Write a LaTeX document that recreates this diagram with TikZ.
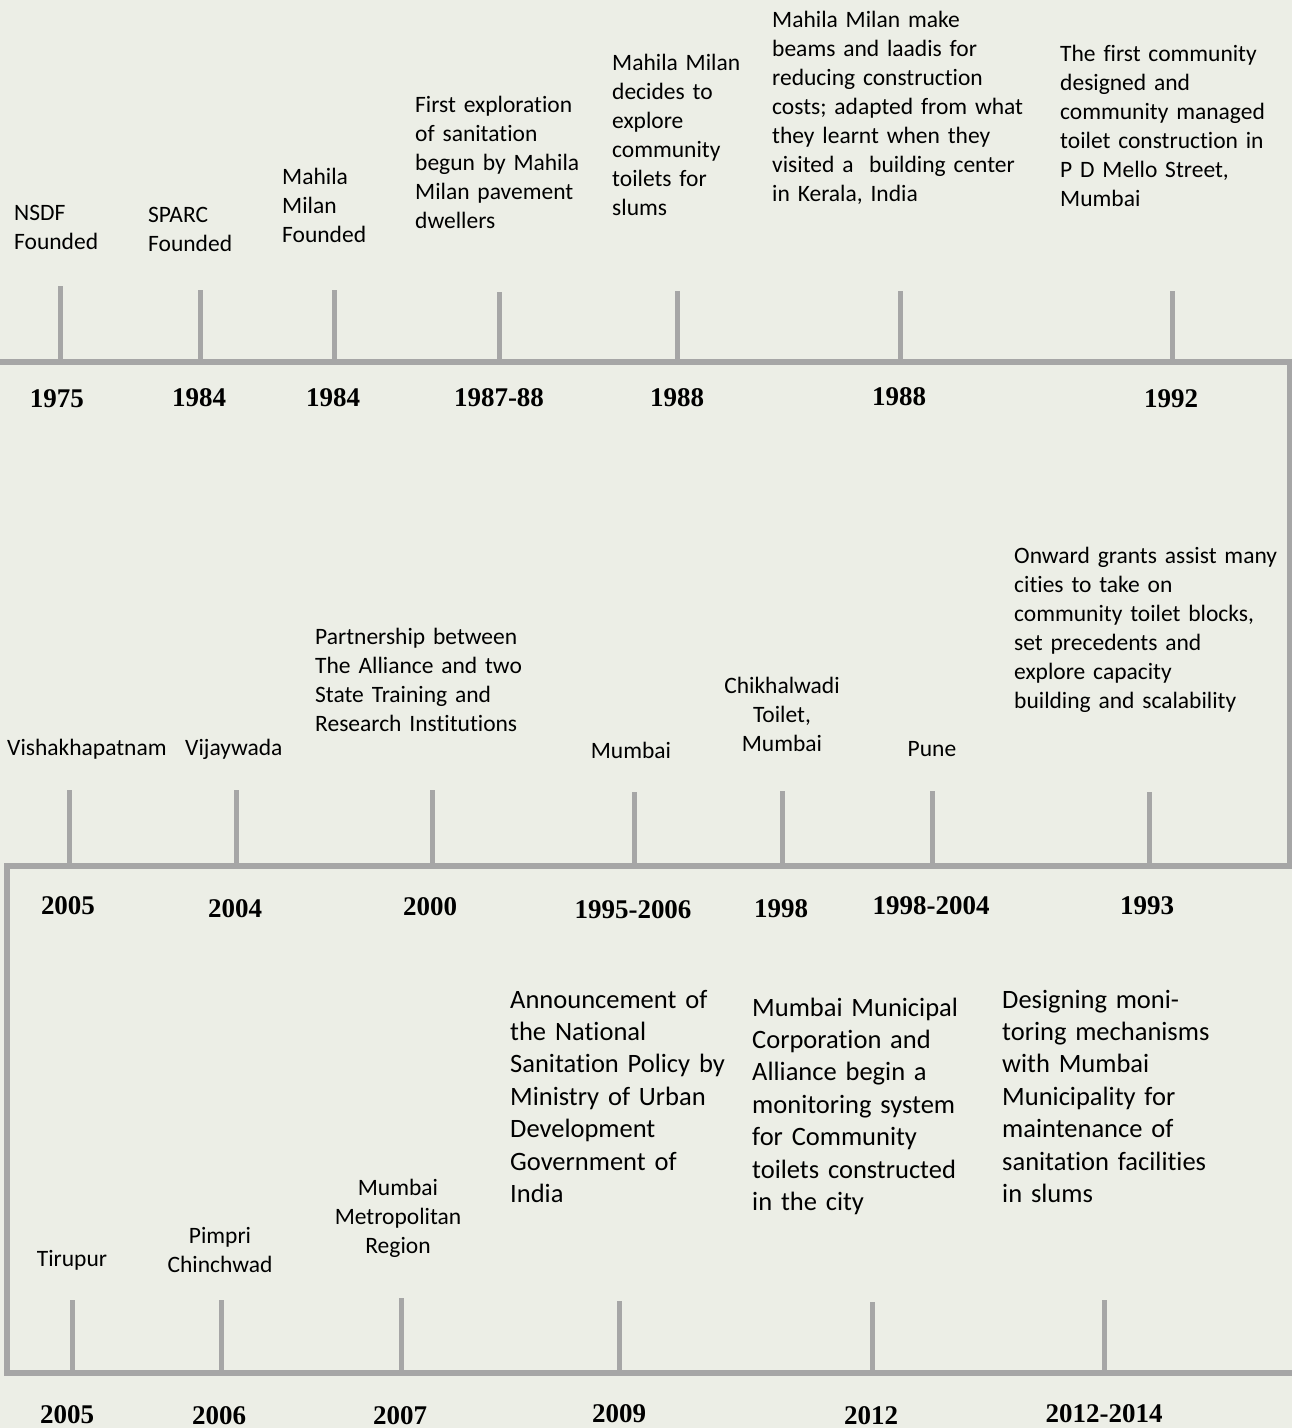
\documentclass[tikz,border=0pt]{standalone}
\usepackage{fontspec}
\setmainfont{Carlito}[Ligatures=NoCommon]
\newfontfamily\yearfont{Liberation Serif}
\definecolor{paper}{HTML}{ECEEE6}
\definecolor{railgray}{HTML}{A6A6A6}
\tikzset{
  event/.style={inner sep=0pt, anchor=base west, align=left, text width=300pt,
    font=\fontsize{23.5}{29}\selectfont},
  place/.style={inner sep=0pt, anchor=base, align=center, text width=200pt,
    font=\fontsize{23.5}{29}\selectfont},
  bigevent/.style={event, font=\fontsize{26.5}{32.4}\selectfont},
  year/.style={inner sep=0pt, anchor=base, font=\yearfont\bfseries\fontsize{27}{30}\selectfont},
  rail/.style={draw=railgray, line width=5.5pt},
  tick/.style={draw=railgray, line width=5pt},
}

\begin{document}
\begin{tikzpicture}[x=1pt, y=-1pt]

% Page
\fill[paper] (0,0) rectangle (1292,1428);
\useasboundingbox (0,0) rectangle (1292,1428);

% Rail
\coordinate (railA) at (0,362);
\coordinate (railB) at (1290,362);
\coordinate (railC) at (1290,866);
\coordinate (railD) at (7,866);
\coordinate (railE) at (7,1373);
\coordinate (railF) at (1292,1373);
\draw[rail] (railA) -- (railB) -- (railC) -- (railD) -- (railE) -- (railF);

% Ticks
\foreach \name/\x/\y in {ta/60/286, tb/200/290, tc/334/290, td/499/292, te/677/291, tf/900/291, tg/1172/291}
  {\coordinate (\name) at (\x,\y); \draw[tick] (\name) -- (\name |- railA);}
\foreach \name/\x/\y in {ma/69/790, mb/236/790, mc/432/790, md/634/792, me/782/791, mf/932/791, mg/1149/792}
  {\coordinate (\name) at (\x,\y); \draw[tick] (\name) -- (\name |- railD);}
\foreach \name/\x/\y in {ba/72/1300, bb/221/1300, bc/401/1298, bd/619/1301, be/872/1302, bf/1104/1300}
  {\coordinate (\name) at (\x,\y); \draw[tick] (\name) -- (\name |- railE);}

% Years
\node[year] (ya) at (57,407) {1975};
\node[year] (yb) at (199,406) {1984};
\node[year] (yc) at (333,406) {1984};
\node[year] (yd) at (499,406) {1987-88};
\node[year] (ye) at (677,406) {1988};
\node[year] (yf) at (899,405) {1988};
\node[year] (yg) at (1171,407) {1992};

\node[year] (za) at (68,914) {2005};
\node[year] (zb) at (235,917) {2004};
\node[year] (zc) at (430,915) {2000};
\node[year] (zd) at (633,918) {1995-2006};
\node[year] (ze) at (781,917) {1998};
\node[year] (zf) at (931,914) {1998-2004};
\node[year] (zg) at (1147,914) {1993};

\node[year] (xa) at (67,1423) {2005};
\node[year] (xb) at (219,1424) {2006};
\node[year] (xc) at (400,1424) {2007};
\node[year] (xd) at (619,1422) {2009};
\node[year] (xe) at (871,1424) {2012};
\node[year] (xf) at (1104,1422) {2012-2014};

% Events, first row
\node[event] (nsdf) at (14,220) {NSDF\\Founded};
\node[event] (sparc) at (148,222) {SPARC\\Founded};
\node[event] (milan) at (282,184) {Mahila\\Milan\\Founded};
\node[event] (explore) at (415,112) {First exploration\\of sanitation\\begun by Mahila\\Milan pavement\\dwellers};
\node[event] (decide) at (612,70) {Mahila Milan\\decides to\\explore\\community\\toilets for\\slums};
\node[event] (beams) at (772,27) {Mahila Milan make\\beams and laadis for\\reducing construction\\costs; adapted from what\\they learnt when they\\visited a\ \ building center\\in Kerala, India};
\node[event] (mello) at (1060,61) {The first community\\designed and\\community managed\\toilet construction in\\P D Mello Street,\\Mumbai};

% Events, second row
\node[event] (vizag) at (7,755) {Vishakhapatnam};
\node[event] (vijay) at (185,755) {Vijaywada};
\node[event] (partner) at (315,644) {Partnership between\\The Alliance and two\\State Training and\\Research Institutions};
\node[place] (mumbai) at (631,758) {Mumbai};
\node[place] (chikhal) at (782,693) {Chikhalwadi\\Toilet,\\Mumbai};
\node[place] (pune) at (932,756) {Pune};
\node[event] (onward) at (1014,563) {Onward grants assist many\\cities to take on\\community toilet blocks,\\set precedents and\\explore capacity\\building and scalability};

% Events, third row
\node[place] (tirupur) at (72,1266) {Tirupur};
\node[place] (pimpri) at (220,1243) {Pimpri\\Chinchwad};
\node[place] (mmr) at (398,1195) {Mumbai\\Metropolitan\\Region};
\node[bigevent] (policy) at (510,1008) {Announcement of\\the National\\Sanitation Policy by\\Ministry of Urban\\Development\\Government of\\India};
\node[bigevent] (monitor) at (752,1016) {Mumbai Municipal\\Corporation and\\Alliance begin a\\monitoring system\\for Community\\toilets constructed\\in the city};
\node[bigevent] (upkeep) at (1002,1008) {Designing moni-\\toring mechanisms\\with Mumbai\\Municipality for\\maintenance of\\sanitation facilities\\in slums};

\end{tikzpicture}
\end{document}
